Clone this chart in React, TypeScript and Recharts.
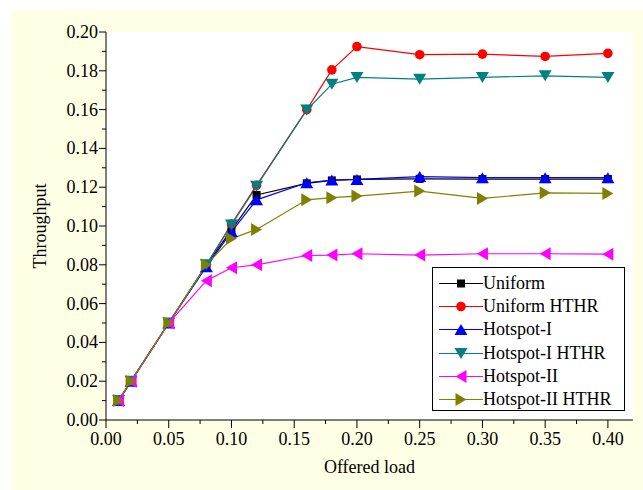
import React from "react"
import { LineChart, Line, XAxis, YAxis, CartesianGrid } from "recharts"

// offered load values on the x axis
const loads = [0.01, 0.02, 0.05, 0.08, 0.1, 0.12, 0.16, 0.18, 0.2, 0.25, 0.3, 0.35, 0.4]

// throughput per traffic pattern
const uniform = [0.01, 0.02, 0.05, 0.08, 0.098, 0.116, 0.122, 0.1235, 0.124, 0.1243, 0.1242, 0.1242, 0.1242]
const uniformHTHR = [0.01, 0.02, 0.05, 0.08, 0.101, 0.121, 0.16, 0.1805, 0.1925, 0.1883, 0.1886, 0.1874, 0.189]
const hotspotI = [0.01, 0.02, 0.05, 0.079, 0.097, 0.1135, 0.1223, 0.1237, 0.124, 0.1255, 0.1249, 0.1249, 0.1249]
const hotspotIHTHR = [0.01, 0.02, 0.05, 0.08, 0.1005, 0.1205, 0.1598, 0.1731, 0.1766, 0.1757, 0.1766, 0.1774, 0.1766]
const hotspotII = [0.01, 0.02, 0.05, 0.0718, 0.0785, 0.08, 0.0848, 0.085, 0.0857, 0.085, 0.0857, 0.0857, 0.0855]
const hotspotIIHTHR = [0.01, 0.02, 0.05, 0.08, 0.0935, 0.0982, 0.1135, 0.1146, 0.1154, 0.118, 0.1142, 0.1171, 0.1168]

const xTicks = [0, 0.025, 0.05, 0.075, 0.1, 0.125, 0.15, 0.175, 0.2, 0.225, 0.25, 0.275, 0.3, 0.325, 0.35, 0.375, 0.4]
const yTicks = [0, 0.01, 0.02, 0.03, 0.04, 0.05, 0.06, 0.07, 0.08, 0.09, 0.1, 0.11, 0.12, 0.13, 0.14, 0.15, 0.16, 0.17, 0.18, 0.19, 0.2]

const FONT = "Liberation Serif"

type Shape = "square" | "circle" | "up" | "down" | "left" | "right"

const series: { key: string; name: string; color: string; shape: Shape; values: number[] }[] = [
  { key: "uniform", name: "Uniform", color: "#000000", shape: "square", values: uniform },
  { key: "uniformHTHR", name: "Uniform HTHR", color: "#ff0000", shape: "circle", values: uniformHTHR },
  { key: "hotspotI", name: "Hotspot-I", color: "#0000ff", shape: "up", values: hotspotI },
  { key: "hotspotIHTHR", name: "Hotspot-I HTHR", color: "#008080", shape: "down", values: hotspotIHTHR },
  { key: "hotspotII", name: "Hotspot-II", color: "#ff00ff", shape: "left", values: hotspotII },
  { key: "hotspotIIHTHR", name: "Hotspot-II HTHR", color: "#808000", shape: "right", values: hotspotIIHTHR },
]

const data = loads.map((load, i) => {
  const row: Record<string, number> = { load }
  series.forEach((s) => {
    row[s.key] = s.values[i]
  })
  return row
})

function Marker({ shape, color, cx, cy }: { shape: Shape; color: string; cx: number; cy: number }) {
  const h = 5.5
  const w = 6.5
  switch (shape) {
    case "square":
      return <rect x={cx - 4} y={cy - 4} width={8} height={8} fill={color} />
    case "circle":
      return <circle cx={cx} cy={cy} r={4.8} fill={color} />
    case "up":
      return <polygon points={`${cx},${cy - h} ${cx + w},${cy + h} ${cx - w},${cy + h}`} fill={color} />
    case "down":
      return <polygon points={`${cx},${cy + h} ${cx + w},${cy - h} ${cx - w},${cy - h}`} fill={color} />
    case "left":
      return <polygon points={`${cx - h},${cy} ${cx + h},${cy - w} ${cx + h},${cy + w}`} fill={color} />
    default:
      return <polygon points={`${cx + h},${cy} ${cx - h},${cy - w} ${cx - h},${cy + w}`} fill={color} />
  }
}

function XTick(props: any) {
  const { x, y, payload } = props
  const v = payload.value as number
  const major = Math.round(v * 1000) % 50 === 0
  return (
    <g>
      <line x1={x} x2={x} y1={y} y2={y + (major ? 8 : 4)} stroke="#000" />
      {major && (
        <text x={x} y={y + 25} textAnchor="middle" style={{ fontFamily: FONT, fontSize: 18 }} fill="#000">
          {v.toFixed(2)}
        </text>
      )}
    </g>
  )
}

function YTick(props: any) {
  const { x, y, payload } = props
  const v = payload.value as number
  const major = Math.round(v * 100) % 2 === 0
  return (
    <g>
      <line x1={x - (major ? 7 : 4)} x2={x} y1={y} y2={y} stroke="#000" />
      {major && (
        <text x={x - 8} y={y + 6} textAnchor="end" style={{ fontFamily: FONT, fontSize: 18 }} fill="#000">
          {v.toFixed(2)}
        </text>
      )}
    </g>
  )
}

function Legendbox() {
  return (
    <div
      style={{
        position: "absolute",
        left: 432,
        top: 267,
        width: 193,
        height: 144,
        border: "1px solid #000",
        background: "#fff",
        paddingTop: 4,
        boxSizing: "border-box",
        fontFamily: FONT,
        fontSize: 18,
      }}
    >
      {series.map((s) => (
        <div key={s.key} style={{ display: "flex", alignItems: "center", height: 23.2 }}>
          <svg width={50} height={23} style={{ display: "block" }}>
            <line x1={6} x2={50} y1={11.5} y2={11.5} stroke={s.color} strokeWidth={1.2} />
            <Marker shape={s.shape} color={s.color} cx={28} cy={11.5} />
          </svg>
          <span style={{ lineHeight: "23px", whiteSpace: "nowrap" }}>{s.name}</span>
        </div>
      ))}
    </div>
  )
}

export default function App() {
  return (
    <div style={{ position: "absolute", left: 0, top: 0, width: 643, height: 490, background: "#fff", overflow: "hidden" }}>
      <div style={{ position: "absolute", left: 12, top: 10, right: 0, bottom: 0, background: "#ffffe5" }} />
      <div style={{ position: "absolute", left: 0, top: 0 }}>
        <LineChart width={643} height={490} data={data} margin={{ top: 32, right: 10, bottom: 0, left: 0 }}>
          <CartesianGrid fill="#ffffff" horizontal={false} vertical={false} />
          <XAxis
            type="number"
            dataKey="load"
            domain={[0, 0.42]}
            ticks={xTicks}
            interval={0}
            height={70}
            tickSize={0}
            tickMargin={0}
            tick={<XTick />}
            axisLine={{ stroke: "#000" }}
            label={{
              content: (p: any) => {
                const vb = p.viewBox
                return (
                  <text x={vb.x + vb.width / 2} y={vb.y + 53} textAnchor="middle" style={{ fontFamily: FONT, fontSize: 18 }} fill="#000">
                    Offered load
                  </text>
                )
              },
            }}
          />
          <YAxis
            type="number"
            domain={[0, 0.2]}
            ticks={yTicks}
            interval={0}
            width={106}
            tickSize={0}
            tickMargin={0}
            tick={<YTick />}
            axisLine={{ stroke: "#000" }}
            label={{
              content: (p: any) => {
                const vb = p.viewBox
                const cx = vb.x + 46
                const cy = vb.y + vb.height / 2
                return (
                  <text
                    x={cx}
                    y={cy}
                    transform={`rotate(-90, ${cx}, ${cy})`}
                    textAnchor="middle"
                    style={{ fontFamily: FONT, fontSize: 18 }}
                    fill="#000"
                  >
                    Throughput
                  </text>
                )
              },
            }}
          />
          {series.map((s) => (
            <Line
              key={s.key}
              dataKey={s.key}
              name={s.name}
              type="linear"
              stroke={s.color}
              strokeWidth={1.2}
              isAnimationActive={false}
              dot={(p: any) => <Marker key={`${s.key}-${p.index}`} shape={s.shape} color={s.color} cx={p.cx} cy={p.cy} />}
              activeDot={false}
            />
          ))}
        </LineChart>
      </div>
      <Legendbox />
    </div>
  )
}
